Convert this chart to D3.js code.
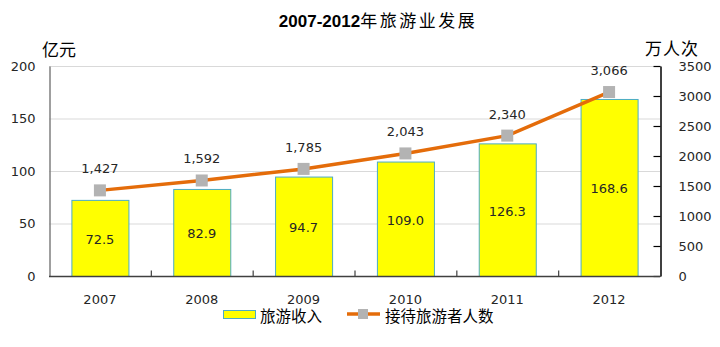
<!DOCTYPE html>
<html>
<head>
<meta charset="utf-8">
<script src="https://cdn.jsdelivr.net/npm/d3@7"></script>
<style>
  html, body { margin: 0; padding: 0; background: #fff; }
  svg { display: block; }
</style>
</head>
<body>
<svg id="chart" width="720" height="347"></svg>
<script>
// Tourism development, 2007-2012
const years = ["2007", "2008", "2009", "2010", "2011", "2012"];
const revenue = [72.5, 82.9, 94.7, 109.0, 126.3, 168.6];      // 亿元
const visitors = [1427, 1592, 1785, 2043, 2340, 3066];        // 万人次
const leftTicks = [0, 50, 100, 150, 200];
const rightTicks = [0, 500, 1000, 1500, 2000, 2500, 3000, 3500];

const svg = d3.select("#chart");
const latin = "'DejaVu Sans', Verdana, sans-serif";
const cjk = "'Noto Sans CJK SC', sans-serif";

const plot = { left: 49, right: 660, top: 66, bottom: 276 };

const x = d3.scaleBand().domain(years).range([plot.left, plot.right]).paddingInner(0.44).paddingOuter(0.22);
const xb = d3.scaleBand().domain(years).range([plot.left, plot.right]);
const yL = d3.scaleLinear().domain([0, 200]).range([plot.bottom, plot.top]);
const yR = d3.scaleLinear().domain([0, 3500]).range([plot.bottom, plot.top]);

// Title
const title = svg.append("text")
  .attr("x", 378).attr("y", 27)
  .attr("text-anchor", "middle")
  .attr("fill", "#000");
title.append("tspan")
  .attr("font-family", "'Liberation Sans', Arial, sans-serif")
  .attr("font-weight", "bold").attr("font-size", 17)
  .text("2007-2012");
title.append("tspan")
  .attr("font-family", cjk).attr("font-size", 17).attr("letter-spacing", 2.5)
  .text("年旅游业发展");

// Gridlines
svg.append("g").selectAll("line")
  .data(leftTicks.filter(d => d > 0))
  .join("line")
  .attr("x1", plot.left).attr("x2", plot.right)
  .attr("y1", d => yL(d) + 0.5).attr("y2", d => yL(d) + 0.5)
  .attr("stroke", "#d9d9d9").attr("stroke-width", 1);

// Bars
svg.append("g").selectAll("rect")
  .data(years.map((y, i) => ({ y, v: revenue[i] })))
  .join("rect")
  .attr("x", d => x(d.y) + 0.5)
  .attr("y", d => yL(d.v) + 0.5)
  .attr("width", x.bandwidth())
  .attr("height", d => yL(0) - yL(d.v))
  .attr("fill", "#ffff00")
  .attr("stroke", "#4bacc6").attr("stroke-width", 1);

// Bar value labels
svg.append("g").selectAll("text")
  .data(years.map((y, i) => ({ y, v: revenue[i] })))
  .join("text")
  .attr("x", d => x(d.y) + x.bandwidth() / 2)
  .attr("y", d => (yL(d.v) + yL(0)) / 2 + 6)
  .attr("text-anchor", "middle")
  .attr("font-family", latin).attr("font-size", 13).attr("fill", "#262626")
  .text(d => d3.format(".1f")(d.v));

// Left axis
const leftAxis = d3.axisLeft(yL).tickValues(leftTicks).tickSize(0).tickPadding(14);
const gl = svg.append("g").attr("transform", `translate(${plot.left + 0.5},0)`).call(leftAxis);
gl.select(".domain").attr("stroke", "#7f7f7f").attr("stroke-width", 1.5);
gl.selectAll("text").attr("font-family", latin).attr("font-size", 13).attr("fill", "#262626");

// Right axis (ticks pointing inward)
const rightAxis = d3.axisRight(yR).tickValues(rightTicks).tickFormat(d3.format("d"))
  .tickSizeInner(-7).tickSizeOuter(0).tickPadding(18);
const gr = svg.append("g").attr("transform", `translate(${plot.right + 0.5},0)`).call(rightAxis);
gr.select(".domain").attr("stroke", "#000").attr("stroke-width", 1.5);
gr.selectAll(".tick line").attr("stroke", "#000").attr("stroke-width", 1.2);
gr.selectAll("text").attr("font-family", latin).attr("font-size", 13).attr("fill", "#262626");

// Bottom axis: category labels and boundary ticks
const gb = svg.append("g").attr("transform", `translate(0,${plot.bottom + 0.5})`);
gb.append("line")
  .attr("x1", plot.left).attr("x2", plot.right)
  .attr("stroke", "#404040").attr("stroke-width", 1.5);
gb.selectAll("line.tick")
  .data(years.slice(1))
  .join("line").attr("class", "tick")
  .attr("x1", d => xb(d) + 0.5).attr("x2", d => xb(d) + 0.5)
  .attr("y1", 0).attr("y2", -6)
  .attr("stroke", "#404040").attr("stroke-width", 1.2);
gb.selectAll("text")
  .data(years)
  .join("text")
  .attr("x", d => xb(d) + xb.bandwidth() / 2)
  .attr("y", 27.5)
  .attr("text-anchor", "middle")
  .attr("font-family", latin).attr("font-size", 13).attr("fill", "#262626")
  .text(d => d);

// Visitors line
const pts = years.map((y, i) => ({ y, v: visitors[i] }));
const line = d3.line().x(d => x(d.y) + x.bandwidth() / 2).y(d => yR(d.v));
svg.append("path")
  .datum(pts)
  .attr("d", line)
  .attr("fill", "none")
  .attr("stroke", "#e46c0a").attr("stroke-width", 3.5);

svg.append("g").selectAll("rect")
  .data(pts)
  .join("rect")
  .attr("x", d => x(d.y) + x.bandwidth() / 2 - 6)
  .attr("y", d => yR(d.v) - 6)
  .attr("width", 12).attr("height", 12)
  .attr("fill", "#b3b3b3");

svg.append("g").selectAll("text")
  .data(pts)
  .join("text")
  .attr("x", d => x(d.y) + x.bandwidth() / 2)
  .attr("y", d => yR(d.v) - 17)
  .attr("text-anchor", "middle")
  .attr("font-family", latin).attr("font-size", 13).attr("fill", "#262626")
  .text(d => d3.format(",")(d.v));

// Axis units
svg.append("text")
  .attr("x", 42).attr("y", 56)
  .attr("font-family", cjk).attr("font-size", 17).attr("fill", "#000")
  .text("亿元");
svg.append("text")
  .attr("x", 645).attr("y", 55)
  .attr("font-family", cjk).attr("font-size", 17).attr("letter-spacing", 1).attr("fill", "#000")
  .text("万人次");

// Legend
const lg = svg.append("g");
lg.append("rect")
  .attr("x", 223.5).attr("y", 310.5).attr("width", 32).attr("height", 8)
  .attr("fill", "#ffff00").attr("stroke", "#4bacc6").attr("stroke-width", 1);
lg.append("text")
  .attr("x", 260).attr("y", 322)
  .attr("font-family", cjk).attr("font-size", 15.5).attr("fill", "#000")
  .text("旅游收入");
lg.append("line")
  .attr("x1", 347).attr("x2", 380).attr("y1", 314).attr("y2", 314)
  .attr("stroke", "#e46c0a").attr("stroke-width", 3.5);
lg.append("rect")
  .attr("x", 358).attr("y", 309).attr("width", 10).attr("height", 10)
  .attr("fill", "#b3b3b3");
lg.append("text")
  .attr("x", 385).attr("y", 322)
  .attr("font-family", cjk).attr("font-size", 15.5).attr("fill", "#000")
  .text("接待旅游者人数");
</script>
</body>
</html>
